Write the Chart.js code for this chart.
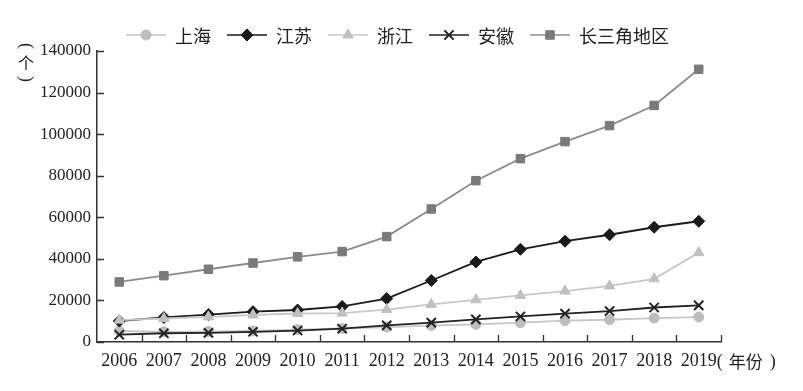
<!DOCTYPE html>
<html><head><meta charset="utf-8">
<script src="https://cdn.jsdelivr.net/npm/chart.js@4/dist/chart.umd.min.js"></script>
<style>html,body{margin:0;padding:0;background:#fff;} #wrap{width:803px;height:391px;position:relative;}</style>
</head><body><div id="wrap"><canvas id="c" width="803" height="391"></canvas></div>
<script>
const years = ['2006','2007','2008','2009','2010','2011','2012','2013','2014','2015','2016','2017','2018','2019'];
const seriesNames = ['上海','江苏','浙江','安徽','长三角地区'];
const shanghai = [5300, 4900, 5000, 5300, 6000, 6500, 7200, 7900, 8500, 9300, 10300, 10700, 11500, 12000];
const jiangsu  = [10100, 11800, 13200, 14600, 15400, 17100, 20900, 29600, 38500, 44600, 48500, 51600, 55200, 58100];
const zhejiang = [10500, 11300, 12100, 13000, 13700, 13900, 15600, 18100, 20300, 22400, 24500, 27000, 30400, 43000];
const anhui    = [3500, 4200, 4400, 4900, 5500, 6400, 8000, 9300, 10900, 12300, 13700, 14900, 16600, 17600];
const yrd      = [28900, 31900, 35000, 38000, 41000, 43500, 50700, 64000, 77600, 88200, 96400, 104100, 113800, 131200];
const yTicks = [0, 20000, 40000, 60000, 80000, 100000, 120000, 140000];
const yUnit = '个';
const xUnit = '年份';

const seriesData = [shanghai, jiangsu, zhejiang, anhui, yrd];
const looks = [
  {fill:'#bdbdbd', line:'#c6c6c6', ps:'circle',   r:5,   bw:1},
  {fill:'#1a1a1a', line:'#1a1a1a', ps:'rectRot',  r:6,   bw:1},
  {fill:'#c0c0c0', line:'#c8c8c8', ps:'triangle', r:6,   bw:1},
  {fill:'#222222', line:'#222222', ps:'crossRot', r:6.5, bw:2},
  {fill:'#7a7a7a', line:'#8c8c8c', ps:'rect',     r:6,   bw:1}
];

const datasets = seriesData.map((d, i) => ({
  label: seriesNames[i],
  data: d,
  borderColor: looks[i].line,
  backgroundColor: looks[i].fill,
  pointBackgroundColor: looks[i].fill,
  pointBorderColor: looks[i].fill,
  pointStyle: looks[i].ps,
  pointRadius: looks[i].r,
  pointHoverRadius: looks[i].r,
  pointBorderWidth: looks[i].bw,
  borderWidth: 1.8,
  tension: 0,
  order: -i
}));

const TXT = '#222';
const serif = '"Liberation Serif", "DejaVu Serif", serif';
const cjk = '"Noto Sans CJK SC", sans-serif';

const decor = {
  id: 'decor',
  afterDraw(chart) {
    const ctx = chart.ctx;
    const xs = chart.scales.x, ys = chart.scales.y;
    const area = chart.chartArea;
    ctx.save();
    // inner tick marks
    ctx.strokeStyle = '#333';
    ctx.lineWidth = 1.3;
    ctx.beginPath();
    yTicks.forEach(v => {
      const y = Math.round(ys.getPixelForValue(v)) + 0.5;
      ctx.moveTo(area.left, y); ctx.lineTo(area.left + 7, y);
    });
    const step = xs.getPixelForValue(1) - xs.getPixelForValue(0);
    for (let i = 1; i <= years.length; i++) {
      const x = Math.round(xs.getPixelForValue(0) - step / 2 + i * step) + 0.5;
      ctx.moveTo(x, area.bottom); ctx.lineTo(x, area.bottom - 7);
    }
    ctx.stroke();

    // legend
    const ly = 35;
    let lx = 126;
    ctx.font = '18px ' + cjk;
    ctx.textBaseline = 'middle';
    ctx.textAlign = 'left';
    chart.data.datasets.forEach((ds) => {
      ctx.strokeStyle = ds.borderColor;
      ctx.lineWidth = 1.5;
      ctx.beginPath(); ctx.moveTo(lx, ly); ctx.lineTo(lx + 40, ly); ctx.stroke();
      ctx.fillStyle = ds.pointBackgroundColor;
      ctx.strokeStyle = ds.pointBorderColor;
      ctx.lineWidth = ds.pointBorderWidth;
      Chart.helpers.drawPoint(ctx, {pointStyle: ds.pointStyle, radius: ds.pointRadius, borderWidth: ds.pointBorderWidth, rotation: 0}, lx + 20, ly);
      ctx.fillStyle = TXT;
      ctx.fillText(ds.label, lx + 49, ly + 1);
      lx += 49 + ctx.measureText(ds.label).width + 16;
    });

    // y unit (vertical)
    ctx.fillStyle = TXT;
    ctx.textAlign = 'center';
    ctx.font = '18px ' + serif;
    ctx.save(); ctx.translate(26, 46); ctx.rotate(Math.PI / 2); ctx.fillText('(', 0, 0); ctx.restore();
    ctx.save(); ctx.translate(26, 79); ctx.rotate(Math.PI / 2); ctx.fillText(')', 0, 0); ctx.restore();
    ctx.font = '16px ' + cjk;
    ctx.fillText(yUnit, 26, 63);

    // x unit
    const xl = xs.getPixelForValue(years.length - 1);
    const by = area.bottom + 20;
    ctx.textAlign = 'left';
    ctx.font = '18px ' + serif;
    ctx.fillText('(', xl + 18, by);
    ctx.font = '17px ' + cjk;
    ctx.fillText(xUnit, xl + 30, by);
    ctx.font = '18px ' + serif;
    ctx.fillText(')', xl + 71, by);
    ctx.restore();
  }
};

new Chart(document.getElementById('c'), {
  type: 'line',
  data: { labels: years, datasets },
  options: {
    responsive: false,
    animation: false,
    events: [],
    layout: { padding: { top: 51, right: 82, bottom: 0, left: 40 } },
    plugins: { legend: { display: false }, tooltip: { enabled: false } },
    scales: {
      x: {
        type: 'category',
        offset: true,
        grid: { display: true, drawOnChartArea: false, drawTicks: false, offset: true },
        border: { display: true, color: '#333', width: 1.5 },
        ticks: { color: TXT, font: { family: serif, size: 18 }, padding: 8, maxRotation: 0, autoSkip: false },
        afterFit(s) { s.height = 49; }
      },
      y: {
        min: 0, max: 140000,
        grid: { display: true, drawOnChartArea: false, drawTicks: false },
        border: { display: true, color: '#333', width: 1.5 },
        ticks: { color: TXT, font: { family: serif, size: 17 }, padding: 6, callback: v => String(v) },
        afterBuildTicks(s) { s.ticks = yTicks.map(v => ({ value: v })); },
        afterFit(s) { s.width = 57; }
      }
    }
  },
  plugins: [decor]
});
</script>
</body></html>
